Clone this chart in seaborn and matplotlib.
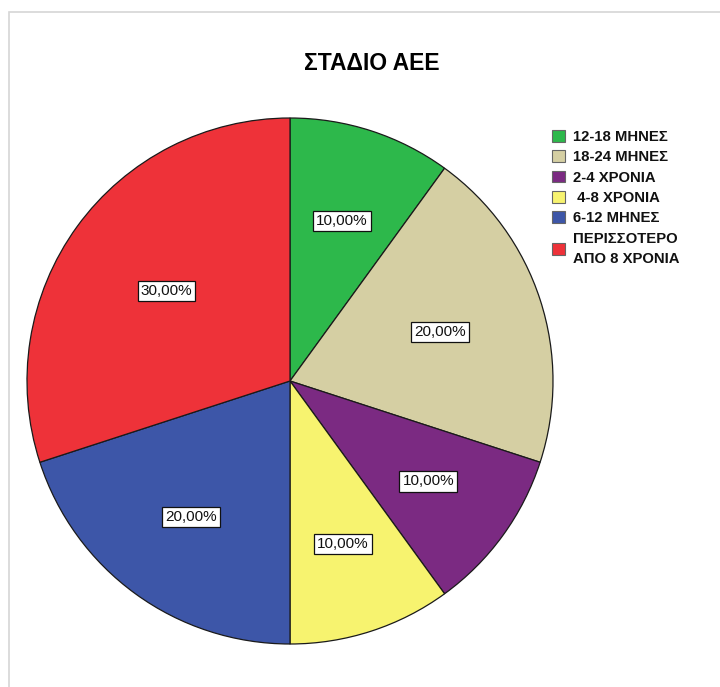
import matplotlib
matplotlib.use("Agg")
import numpy as np
import matplotlib.pyplot as plt
from matplotlib.patches import Rectangle, Patch
import seaborn as sns

categories = ["12-18 ΜΗΝΕΣ", "18-24 ΜΗΝΕΣ", "2-4 ΧΡΟΝΙΑ", " 4-8 ΧΡΟΝΙΑ", "6-12 ΜΗΝΕΣ", "ΠΕΡΙΣΣΟΤΕΡΟ\nΑΠΟ 8 ΧΡΟΝΙΑ"]
values = [10, 20, 10, 10, 20, 30]
colors = ["#2DB84B", "#D5CFA3", "#7B2A82", "#F7F36F", "#3D56A8", "#EE3239"]
title = "ΣΤΑΔΙΟ ΑΕΕ"

# radial distance of each percentage label (fraction of radius)
label_dist = [0.64, 0.60, 0.65, 0.65, 0.64, 0.58]

sns.set_style("white")
plt.rcParams["font.family"] = ["Liberation Sans", "DejaVu Sans"]
plt.rcParams["text.color"] = "black"
palette = sns.color_palette(colors)

W, H = 720, 687
fig = plt.figure(figsize=(W / 100, H / 100), dpi=100)
fig.patch.set_facecolor("white")

# light frame
fig.patches.append(Rectangle((9 / W, -0.1), 1.2, (H - 12) / H + 0.1, transform=fig.transFigure,
                             fill=False, edgecolor="#d6d6d6", linewidth=1.2))

cx, cy, r = 290, 381, 263
ax = fig.add_axes([(cx - r) / W, (H - cy - r) / H, 2 * r / W, 2 * r / H])
wedges, texts, autotexts = ax.pie(
    values, colors=palette, startangle=90, counterclock=False,
    autopct=lambda p: f"{p:.2f}%".replace(".", ","), pctdistance=0.64,
    wedgeprops=dict(edgecolor="#1a1a1a", linewidth=0.9), radius=1.0,
)
for w, t, d in zip(wedges, autotexts, label_dist):
    ang = np.deg2rad((w.theta1 + w.theta2) / 2)
    t.set_position((d * np.cos(ang), d * np.sin(ang)))
    t.set_fontsize(11)
    t.set_color("#111111")
    t.set_bbox(dict(boxstyle="square,pad=0.2", facecolor="white", edgecolor="#111111", linewidth=0.9))
ax.set_xlim(-1, 1)
ax.set_ylim(-1, 1)
ax.set_axis_off()

fig.text(372 / W, 1 - 63 / H, title, ha="center", va="center", fontsize=16.5,
         fontweight="bold", color="black")

handles = [Patch(facecolor=c, edgecolor="#666666", linewidth=0.8) for c in palette]
leg = fig.legend(handles, categories, loc="upper left", bbox_to_anchor=(546 / W, 1 - 124 / H),
                 frameon=False, prop=dict(size=10.7, weight="bold"), handlelength=0.85, handleheight=0.85,
                 handletextpad=0.55, labelspacing=0.42, borderaxespad=0)
for t in leg.get_texts():
    t.set_color("#111111")
leg.get_texts()[-1].set_linespacing(1.6)

fig.savefig("out.png", dpi=100, facecolor="white")
